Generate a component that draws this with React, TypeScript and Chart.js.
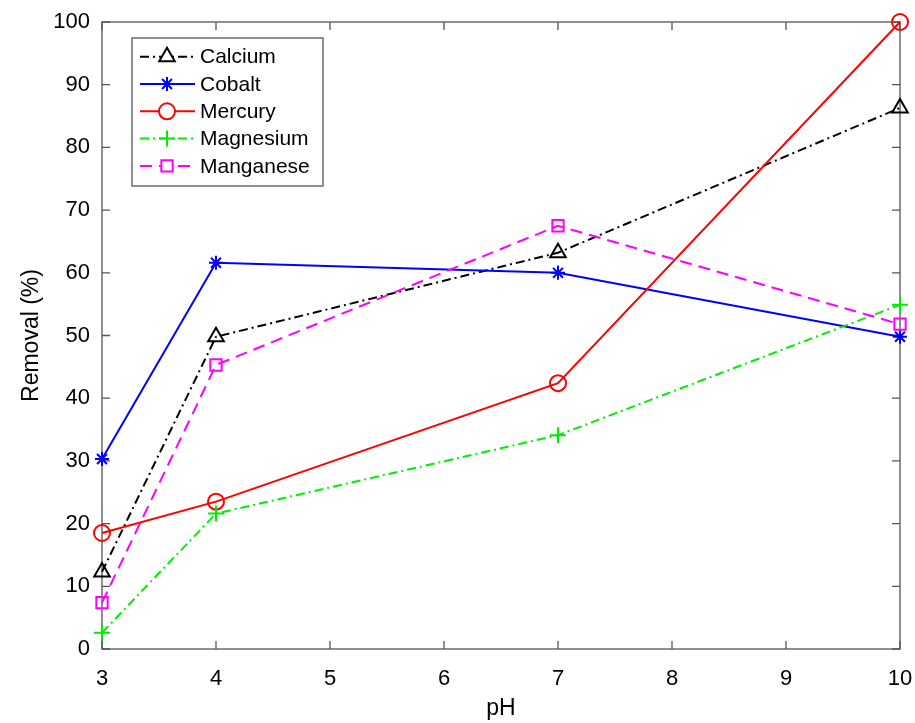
import React, { useEffect, useRef } from "react";
import { Chart, registerables } from "chart.js";
import { drawPoint } from "chart.js/helpers";

Chart.register(...registerables);

const phValues = [3, 4, 7, 10];
const calcium = [12.3, 49.8, 63.2, 86.3];
const cobalt = [30.3, 61.6, 60.0, 49.8];
const mercury = [18.5, 23.5, 42.4, 100];
const magnesium = [2.6, 21.6, 34.1, 54.9];
const manganese = [7.4, 45.3, 67.5, 51.8];
const seriesLabels = ["Calcium", "Cobalt", "Mercury", "Magnesium", "Manganese"];
const xTicks = [3, 4, 5, 6, 7, 8, 9, 10];
const yTicks = [0, 10, 20, 30, 40, 50, 60, 70, 80, 90, 100];

const FONT = "'Liberation Sans', Arial, Helvetica, sans-serif";
const AXIS_COLOR = "#555555";

const toPts = (ys: number[]) => phValues.map((x, i) => ({ x, y: ys[i] }));

const framePlugin = {
  id: "frame",
  beforeDatasetsDraw(chart: any) {
    const { ctx, chartArea } = chart;
    const { left, right, top, bottom } = chartArea;
    const xs = chart.scales.x;
    const ys = chart.scales.y;
    ctx.save();
    ctx.strokeStyle = AXIS_COLOR;
    ctx.lineWidth = 1.3;
    ctx.setLineDash([]);
    ctx.strokeRect(left, top, right - left, bottom - top);
    const tl = 8;
    ctx.beginPath();
    xTicks.forEach((v) => {
      const px = xs.getPixelForValue(v);
      ctx.moveTo(px, bottom);
      ctx.lineTo(px, bottom - tl);
      ctx.moveTo(px, top);
      ctx.lineTo(px, top + tl);
    });
    yTicks.forEach((v) => {
      const py = ys.getPixelForValue(v);
      ctx.moveTo(left, py);
      ctx.lineTo(left + tl, py);
      ctx.moveTo(right, py);
      ctx.lineTo(right - tl, py);
    });
    ctx.stroke();
    ctx.restore();
  },
};

const legendPlugin = {
  id: "customLegend",
  afterDatasetsDraw(chart: any) {
    const { ctx } = chart;
    const bx = 132, by = 38, bw = 191, bh = 148;
    ctx.save();
    ctx.fillStyle = "#ffffff";
    ctx.fillRect(bx, by, bw, bh);
    ctx.strokeStyle = AXIS_COLOR;
    ctx.lineWidth = 1.3;
    ctx.setLineDash([]);
    ctx.strokeRect(bx, by, bw, bh);
    chart.data.datasets.forEach((ds: any, i: number) => {
      const y = 56.7 + i * 27.3;
      ctx.save();
      ctx.strokeStyle = ds.borderColor;
      ctx.lineWidth = ds.borderWidth;
      ctx.setLineDash(ds.borderDash || []);
      ctx.beginPath();
      ctx.moveTo(140, y);
      ctx.lineTo(195, y);
      ctx.stroke();
      ctx.restore();
      ctx.save();
      ctx.setLineDash([]);
      ctx.strokeStyle = ds.pointBorderColor;
      ctx.fillStyle = "#ffffff";
      ctx.lineWidth = ds.pointBorderWidth;
      drawPoint(ctx, { pointStyle: ds.pointStyle, radius: ds.pointRadius, rotation: 0, borderWidth: ds.pointBorderWidth } as any, 167, y);
      ctx.restore();
      ctx.fillStyle = "#000";
      ctx.font = `21px ${FONT}`;
      ctx.textBaseline = "middle";
      ctx.textAlign = "left";
      ctx.fillText(seriesLabels[i], 200, y + 1);
    });
    ctx.restore();
  },
};

export default function App() {
  const ref = useRef<HTMLCanvasElement | null>(null);
  useEffect(() => {
    if (!ref.current) return;
    const mk = (i: number, ys: number[], color: string, dash: number[], style: string, r: number, order: number) => ({
      label: seriesLabels[i],
      data: toPts(ys),
      borderColor: color,
      backgroundColor: "rgba(0,0,0,0)",
      borderWidth: 2,
      borderDash: dash,
      pointStyle: style,
      pointRadius: r,
      pointHoverRadius: r,
      pointBorderColor: color,
      pointBackgroundColor: "rgba(0,0,0,0)",
      pointBorderWidth: 2,
      tension: 0,
      fill: false,
      clip: false,
      order,
    });
    const chart = new Chart(ref.current, {
      type: "line",
      data: {
        datasets: [
          mk(0, calcium, "#000000", [9, 4, 2, 4], "triangle", 9, 4),
          mk(1, cobalt, "#0000ff", [], "star", 7, 3),
          mk(2, mercury, "#ff0000", [], "circle", 8, 2),
          mk(3, magnesium, "#00ee00", [9, 4, 2, 4], "cross", 8, 1),
          mk(4, manganese, "#ff00ff", [12, 7], "rect", 8, 0),
        ] as any,
      },
      options: {
        animation: false,
        responsive: false,
        maintainAspectRatio: false,
        events: [],
        layout: { padding: { left: 0, top: 22, right: 15, bottom: 0 } },
        plugins: { legend: { display: false }, tooltip: { enabled: false } },
        scales: {
          x: {
            type: "linear",
            min: 3,
            max: 10,
            ticks: { stepSize: 1, color: "#000", font: { family: FONT, size: 22 }, padding: 9 },
            grid: { display: false },
            border: { display: false },
            title: { display: true, text: "pH", color: "#000", font: { family: FONT, size: 23 }, padding: { top: 0, bottom: 1 } },
            afterFit: (s: any) => { s.height = 74; s.paddingLeft = 0; s.paddingRight = 0; },
          },
          y: {
            min: 0,
            max: 100,
            ticks: { stepSize: 10, color: "#000", font: { family: FONT, size: 22 }, padding: 4 },
            grid: { display: false },
            border: { display: false },
            title: { display: true, text: "Removal (%)", color: "#000", font: { family: FONT, size: 23 }, padding: { top: 18, bottom: 18 } },
            afterFit: (s: any) => { s.width = 102; s.paddingTop = 0; s.paddingBottom = 0; },
          },
        },
      } as any,
      plugins: [framePlugin, legendPlugin],
    });
    return () => chart.destroy();
  }, []);
  return (
    <div style={{ position: "fixed", left: 0, top: 0, width: 915, height: 723, background: "#fff" }}>
      <canvas ref={ref} width={915} height={723} style={{ width: 915, height: 723, display: "block" }} />
    </div>
  );
}
